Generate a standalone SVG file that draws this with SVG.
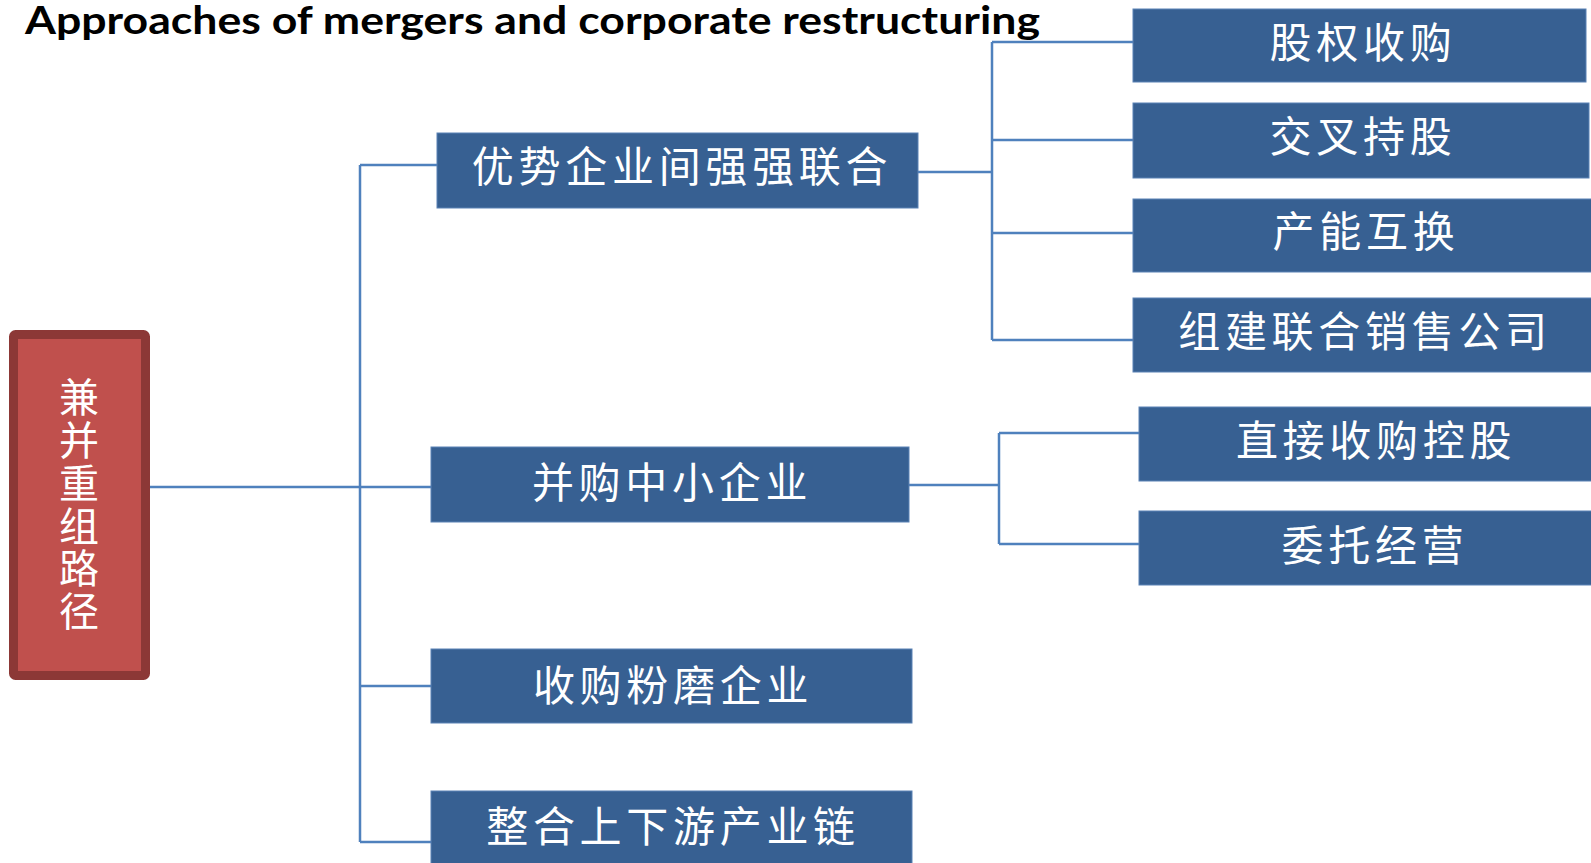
<svg xmlns="http://www.w3.org/2000/svg" width="1591" height="863" viewBox="0 0 1591 863">
<style>
.bg{fill:#ffffff}
.box{fill:#376092;stroke:#5b82b5;stroke-width:1}
.root{fill:#C0504D;stroke:#8C3836;stroke-width:9}
.lbl{font-family:"Noto Sans CJK SC","Noto Sans",sans-serif;font-size:42px;fill:#ffffff;text-anchor:middle;letter-spacing:4.7px}
.rlbl{font-family:"Noto Sans CJK SC","Noto Sans",sans-serif;font-size:40px;fill:#ffffff;writing-mode:vertical-rl;text-orientation:upright;letter-spacing:2.8px}
.title{font-family:Lato,"Liberation Sans",sans-serif;font-weight:bold;font-size:39px;fill:#000000}
.conn{fill:none;stroke:#4F81BD;stroke-width:2.5}
</style>
<rect class="bg" x="0" y="0" width="1591" height="863"/>
<text class="title" x="25" y="34" textLength="1015" lengthAdjust="spacingAndGlyphs">Approaches of mergers and corporate restructuring</text>
<g id="connectors">
<path class="conn" d="M150 487 H431"/>
<path class="conn" d="M360 165 V842"/>
<path class="conn" d="M360 165 H437"/>
<path class="conn" d="M360 686 H431"/>
<path class="conn" d="M360 842 H431"/>
<path class="conn" d="M918 172 H992"/>
<path class="conn" d="M992 42 V340"/>
<path class="conn" d="M992 42 H1133"/>
<path class="conn" d="M992 140 H1133"/>
<path class="conn" d="M992 233 H1133"/>
<path class="conn" d="M992 340 H1133"/>
<path class="conn" d="M909 485 H999"/>
<path class="conn" d="M999 433 V544"/>
<path class="conn" d="M999 433 H1139"/>
<path class="conn" d="M999 544 H1139"/>
</g>
<g id="root">
<rect class="root" x="13.5" y="334.5" width="132" height="341" rx="2"/>
<text class="rlbl" x="79" y="377">兼并重组路径</text>
</g>
<g id="n1">
<rect class="box" x="437" y="133" width="481" height="75"/>
<text class="lbl" x="682" y="182">优势企业间强强联合</text>
</g>
<g id="n2">
<rect class="box" x="431" y="447" width="478" height="75"/>
<text class="lbl" x="672" y="498">并购中小企业</text>
</g>
<g id="n3">
<rect class="box" x="431" y="649" width="481" height="74"/>
<text class="lbl" x="673" y="701">收购粉磨企业</text>
</g>
<g id="n4">
<rect class="box" x="431" y="791" width="481" height="80"/>
<text class="lbl" x="673" y="842">整合上下游产业链</text>
</g>
<g id="n1a">
<rect class="box" x="1133" y="9" width="453" height="73"/>
<text class="lbl" x="1363" y="58">股权收购</text>
</g>
<g id="n1b">
<rect class="box" x="1133" y="103" width="456" height="75"/>
<text class="lbl" x="1363" y="152">交叉持股</text>
</g>
<g id="n1c">
<rect class="box" x="1133" y="199" width="470" height="73"/>
<text class="lbl" x="1366" y="247">产能互换</text>
</g>
<g id="n1d">
<rect class="box" x="1133" y="298" width="470" height="74"/>
<text class="lbl" x="1365" y="347">组建联合销售公司</text>
</g>
<g id="n2a">
<rect class="box" x="1139" y="407" width="470" height="74"/>
<text class="lbl" x="1376" y="456">直接收购控股</text>
</g>
<g id="n2b">
<rect class="box" x="1139" y="511" width="470" height="74"/>
<text class="lbl" x="1375" y="561">委托经营</text>
</g>
</svg>
